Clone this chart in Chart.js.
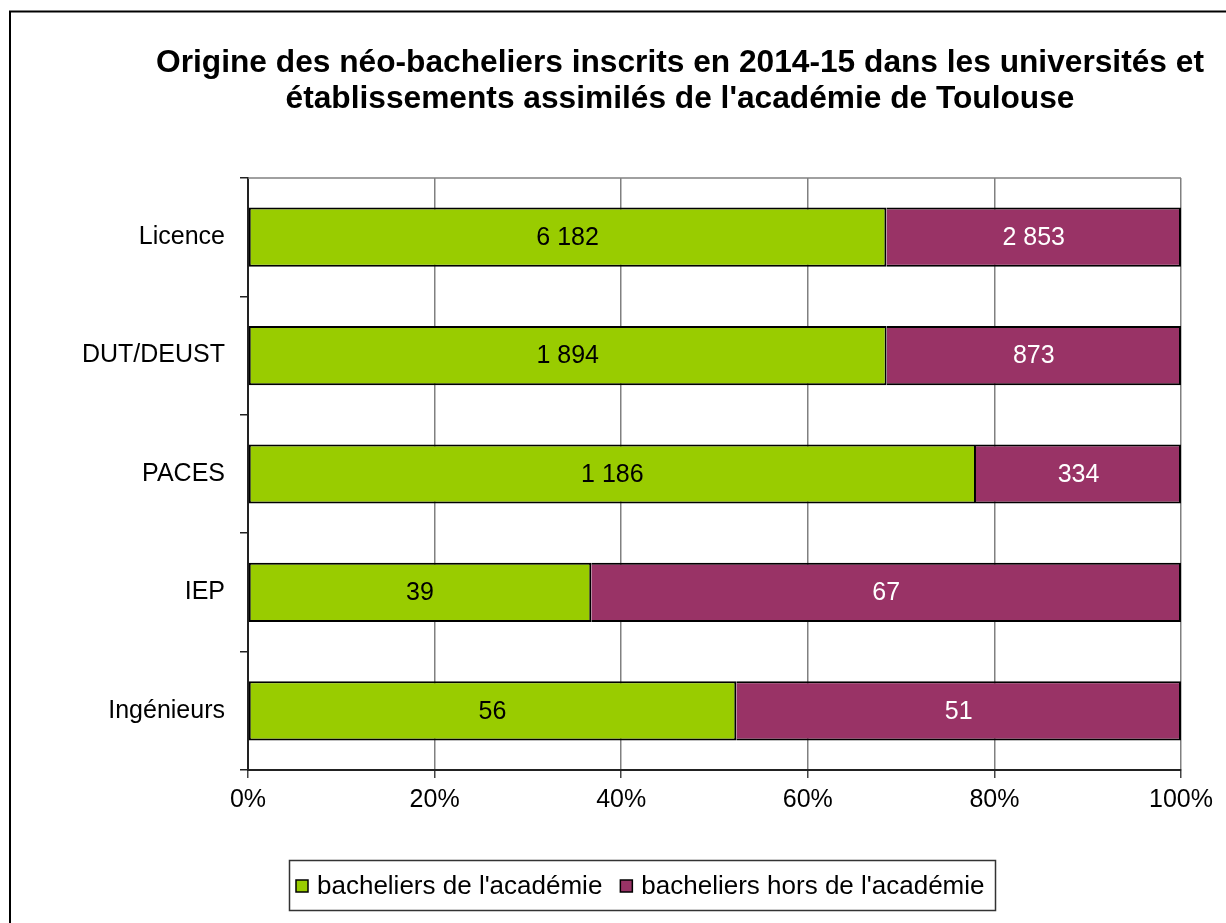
<!DOCTYPE html>
<html>
<head>
<meta charset="utf-8">
<script src="https://cdn.jsdelivr.net/npm/chart.js@4.4.1/dist/chart.umd.min.js"></script>
<style>
  body { margin: 0; background: #fff; }
  #graf { position: absolute; left: 0; top: 0; }
</style>
</head>
<body>
<canvas id="graf" width="1226" height="923"></canvas>
<script>
// données
var categories = ['Licence', 'DUT/DEUST', 'PACES', 'IEP', 'Ingénieurs'];
var bacAcademie = [6182, 1894, 1186, 39, 56];
var bacHorsAcademie = [2853, 873, 334, 67, 51];
var ticksX = [0, 20, 40, 60, 80, 100];
var titre = ["Origine des néo-bacheliers inscrits en 2014-15 dans les universités et",
             "établissements assimilés de l'académie de Toulouse"];

var vert = '#99CC00';
var violet = '#993366';
var police = '"Liberation Sans", Arial, sans-serif';

// en pourcentage du total de chaque filière
function pourcent(serie, autre) {
    return serie.map(function (v, i) { return v / (v + autre[i]) * 100; });
}

function formatNombre(n) {
    return String(n).replace(/\B(?=(\d{3})+(?!\d))/g, ' ');
}

// cadre, titre, bordure haute de la zone et légende
var decor = {
    id: 'decor',
    beforeDraw: function (chart) {
        var ctx = chart.ctx;
        ctx.save();
        ctx.fillStyle = '#fff';
        ctx.fillRect(0, 0, chart.width, chart.height);
        ctx.strokeStyle = '#000';
        ctx.lineWidth = 2;
        ctx.beginPath();
        ctx.moveTo(10, chart.height);
        ctx.lineTo(10, 11.5);
        ctx.lineTo(chart.width, 11.5);
        ctx.stroke();
        ctx.restore();
    },
    afterDraw: function (chart) {
        var ctx = chart.ctx;
        var area = chart.chartArea;
        ctx.save();
        // bord haut de la zone de tracé
        ctx.strokeStyle = '#808080';
        ctx.lineWidth = 1.5;
        ctx.beginPath();
        ctx.moveTo(area.left, area.top);
        ctx.lineTo(area.right, area.top);
        ctx.stroke();

        // titre
        ctx.fillStyle = '#000';
        ctx.font = 'bold 31.7px ' + police;
        ctx.textAlign = 'center';
        ctx.textBaseline = 'alphabetic';
        ctx.fillText(titre[0], 680, 72);
        ctx.fillText(titre[1], 680, 108);

        // légende
        ctx.strokeStyle = '#333';
        ctx.lineWidth = 1.5;
        ctx.strokeRect(289.5, 860.5, 706, 50);
        ctx.font = '26px ' + police;
        ctx.textAlign = 'left';
        ctx.textBaseline = 'middle';
        var x = 296;
        chart.data.datasets.forEach(function (ds) {
            ctx.fillStyle = ds.backgroundColor;
            ctx.fillRect(x, 880, 12, 12);
            ctx.strokeStyle = '#000';
            ctx.lineWidth = 1.5;
            ctx.strokeRect(x, 880, 12, 12);
            ctx.fillStyle = '#000';
            ctx.fillText(ds.label, x + 21, 887);
            x += 21 + ctx.measureText(ds.label).width + 18;
        });
        ctx.restore();
    }
};

// valeurs au centre de chaque segment
var etiquettes = {
    id: 'etiquettes',
    afterDatasetsDraw: function (chart) {
        var ctx = chart.ctx;
        ctx.save();
        ctx.font = '25px ' + police;
        ctx.textAlign = 'center';
        ctx.textBaseline = 'middle';
        chart.data.datasets.forEach(function (ds, i) {
            var meta = chart.getDatasetMeta(i);
            meta.data.forEach(function (bar, j) {
                var cx = (bar.x + bar.base) / 2;
                ctx.fillStyle = ds.couleurTexte;
                ctx.fillText(formatNombre(ds.brut[j]), cx, bar.y + 1);
            });
        });
        ctx.restore();
    }
};

var ctx = document.getElementById('graf').getContext('2d');

new Chart(ctx, {
    type: 'bar',
    data: {
        labels: categories,
        datasets: [{
            label: "bacheliers de l'académie",
            data: pourcent(bacAcademie, bacHorsAcademie),
            brut: bacAcademie,
            couleurTexte: '#000',
            backgroundColor: vert,
            borderColor: '#000',
            borderWidth: 2,
            borderSkipped: false
        }, {
            label: "bacheliers hors de l'académie",
            data: pourcent(bacHorsAcademie, bacAcademie),
            brut: bacHorsAcademie,
            couleurTexte: '#fff',
            backgroundColor: violet,
            borderColor: '#000',
            borderWidth: 2,
            borderSkipped: 'start'
        }]
    },
    options: {
        indexAxis: 'y',
        responsive: false,
        animation: false,
        categoryPercentage: 1,
        barPercentage: 0.5,
        layout: {
            padding: { top: 178, right: 45, bottom: 93, left: 0 }
        },
        plugins: {
            legend: { display: false },
            title: { display: false },
            tooltip: { enabled: false }
        },
        scales: {
            x: {
                stacked: true,
                min: 0,
                max: 100,
                afterBuildTicks: function (axis) {
                    axis.ticks = ticksX.map(function (v) { return { value: v }; });
                },
                afterFit: function (axis) { axis.height = 60; },
                ticks: {
                    color: '#000',
                    font: { family: police, size: 25 },
                    padding: 7,
                    maxRotation: 0,
                    callback: function (v) { return v + '%'; }
                },
                grid: {
                    color: '#808080',
                    lineWidth: 1.5,
                    tickLength: 8,
                    tickColor: '#444'
                },
                border: { color: '#222', width: 2 }
            },
            y: {
                stacked: true,
                afterFit: function (axis) { axis.width = 248; },
                ticks: {
                    color: '#000',
                    font: { family: police, size: 25 },
                    padding: 15
                },
                grid: {
                    offset: true,
                    drawOnChartArea: false,
                    tickLength: 8,
                    tickColor: '#222',
                    lineWidth: 1.5
                },
                border: { color: '#222', width: 2 }
            }
        }
    },
    plugins: [decor, etiquettes]
});
</script>
</body>
</html>
